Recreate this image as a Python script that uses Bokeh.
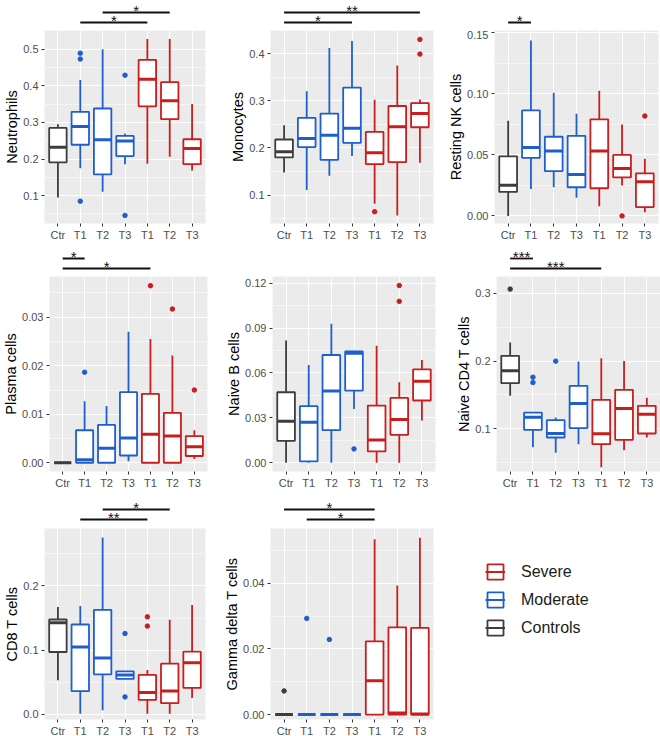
from bokeh.plotting import figure
from bokeh.layouts import row, column
from bokeh.models import (Range1d, FixedTicker, NumeralTickFormatter, ColumnDataSource,
                          Legend, LegendItem)
from bokeh.transform import dodge
from bokeh.core.properties import value
from bokeh.embed import file_html
from bokeh.resources import INLINE

FONT = "Liberation Sans"
NAN = float("nan")

# ---------------- data ----------------
X_LABELS = ["Ctr", "T1", "T2", "T3", "T1", "T2", "T3"]
GROUPS = ["Controls", "Moderate", "Moderate", "Moderate", "Severe", "Severe", "Severe"]
GROUP_COLORS = {"Controls": "#3D3D3D", "Moderate": "#1F5FCC", "Severe": "#C81E1E"}
LEGEND_ORDER = ["Severe", "Moderate", "Controls"]

# Neutrophils
NEUT_LO = [0.095, 0.175, 0.111, 0.186, 0.187, 0.206, 0.169]
NEUT_Q1 = [0.191, 0.239, 0.158, 0.208, 0.344, 0.309, 0.186]
NEUT_MED = [0.232, 0.289, 0.253, 0.249, 0.418, 0.359, 0.229]
NEUT_Q3 = [0.285, 0.329, 0.338, 0.263, 0.471, 0.410, 0.254]
NEUT_HI = [0.295, 0.416, 0.500, 0.270, 0.528, 0.528, 0.350]
NEUT_OUT_I = [1, 1, 1, 3, 3]
NEUT_OUT_V = [0.489, 0.473, 0.085, 0.429, 0.046]
NEUT_SIG = [(2, 5, "*", 0), (1, 4, "*", 1)]

# Monocytes
MONO_LO = [0.148, 0.111, 0.141, 0.183, 0.082, 0.057, 0.169]
MONO_Q1 = [0.180, 0.202, 0.175, 0.211, 0.166, 0.170, 0.244]
MONO_MED = [0.192, 0.220, 0.227, 0.242, 0.190, 0.245, 0.273]
MONO_Q3 = [0.218, 0.264, 0.273, 0.328, 0.234, 0.289, 0.295]
MONO_HI = [0.248, 0.320, 0.412, 0.427, 0.302, 0.375, 0.303]
MONO_OUT_I = [4, 6, 6]
MONO_OUT_V = [0.065, 0.430, 0.399]
MONO_SIG = [(0, 6, "**", 0), (0, 3, "*", 1)]

# Resting NK cells
NK_LO = [0.000, 0.022, 0.0235, 0.015, 0.008, 0.025, 0.003]
NK_Q1 = [0.0197, 0.0476, 0.0368, 0.0235, 0.0227, 0.0316, 0.0073]
NK_MED = [0.0251, 0.056, 0.0532, 0.034, 0.0532, 0.0389, 0.0281]
NK_Q3 = [0.0489, 0.0865, 0.0649, 0.0657, 0.0792, 0.050, 0.0349]
NK_HI = [0.078, 0.1438, 0.101, 0.0838, 0.1027, 0.0749, 0.0468]
NK_OUT_I = [5, 6]
NK_OUT_V = [0.0, 0.0819]
NK_SIG = [(0, 1, "*", 1)]

# Plasma cells
PLAS_LO = [0.0, 0.0, 0.0, 0.0003, 0.0, 0.0, 0.0008]
PLAS_Q1 = [0.0, 0.0, 0.0, 0.0015, 0.0, 0.0, 0.0014]
PLAS_MED = [0.0, 0.0006, 0.003, 0.0051, 0.0059, 0.0055, 0.0033]
PLAS_Q3 = [0.0, 0.0067, 0.0078, 0.01455, 0.0142, 0.0103, 0.0055]
PLAS_HI = [0.0, 0.0127, 0.0117, 0.027, 0.0255, 0.0221, 0.0067]
PLAS_OUT_I = [1, 4, 5, 6]
PLAS_OUT_V = [0.01867, 0.0365, 0.0317, 0.015]
PLAS_SIG = [(0, 1, "*", 0), (0, 4, "*", 1)]

# Naive B cells
NB_LO = [0.0, 0.0, 0.0, 0.036, 0.0, 0.0, 0.0282]
NB_Q1 = [0.0147, 0.0009, 0.0218, 0.0482, 0.0076, 0.0187, 0.0416]
NB_MED = [0.0278, 0.0271, 0.048, 0.0731, 0.0153, 0.0289, 0.0544]
NB_Q3 = [0.0471, 0.0378, 0.072, 0.0744, 0.0382, 0.0433, 0.0624]
NB_HI = [0.0816, 0.0653, 0.0929, 0.0748, 0.0782, 0.0538, 0.0687]
NB_OUT_I = [3, 5, 5]
NB_OUT_V = [0.0093, 0.1184, 0.1078]
NB_SIG = []

# Naive CD4 T cells
CD4_LO = [0.1487, 0.073, 0.0646, 0.0774, 0.0435, 0.0686, 0.0872]
CD4_Q1 = [0.1673, 0.0985, 0.0872, 0.101, 0.0774, 0.0838, 0.0931]
CD4_MED = [0.1855, 0.1172, 0.0931, 0.1373, 0.0926, 0.130, 0.1216]
CD4_Q3 = [0.2076, 0.124, 0.1128, 0.1634, 0.1428, 0.1575, 0.1339]
CD4_HI = [0.2273, 0.125, 0.1167, 0.1993, 0.2042, 0.2002, 0.1457]
CD4_OUT_I = [0, 1, 1, 2]
CD4_OUT_V = [0.306, 0.1762, 0.1683, 0.1998]
CD4_SIG = [(0, 1, "***", 0), (0, 4, "***", 1)]

# CD8 T cells
CD8_LO = [0.0532, 0.001, 0.0067, 0.0553, 0.001, 0.001, 0.0258]
CD8_Q1 = [0.0972, 0.0362, 0.0625, 0.0553, 0.0227, 0.0176, 0.0413]
CD8_MED = [0.1426, 0.1049, 0.0879, 0.0615, 0.0341, 0.0367, 0.0806]
CD8_Q3 = [0.1478, 0.140, 0.1628, 0.0672, 0.0615, 0.0791, 0.0977]
CD8_HI = [0.1674, 0.169, 0.2755, 0.0672, 0.0693, 0.1473, 0.1705]
CD8_OUT_I = [3, 3, 4, 4]
CD8_OUT_V = [0.126, 0.0274, 0.1519, 0.1375]
CD8_SIG = [(2, 5, "*", 0), (1, 4, "**", 1)]

# Gamma delta T cells
GD_LO = [0.0, 0.0, 0.0, 0.0, 0.0, 0.0, 0.0]
GD_Q1 = [0.0, 0.0, 0.0, 0.0, 0.0, 0.0, 0.0]
GD_MED = [0.0, 0.0, 0.0, 0.0, 0.0103, 0.0005, 0.0002]
GD_Q3 = [0.0, 0.0, 0.0, 0.0, 0.0223, 0.0266, 0.0264]
GD_HI = [0.0, 0.0, 0.0, 0.0, 0.0534, 0.0393, 0.0539]
GD_OUT_I = [0, 1, 2]
GD_OUT_V = [0.0072, 0.0293, 0.0229]
GD_SIG = [(0, 4, "*", 0), (1, 4, "*", 1)]

PANELS = [
    ("Neutrophils", NEUT_LO, NEUT_Q1, NEUT_MED, NEUT_Q3, NEUT_HI, NEUT_OUT_I, NEUT_OUT_V, NEUT_SIG,
     (0.024, 0.551), [0.1, 0.2, 0.3, 0.4, 0.5], [0.05, 0.15, 0.25, 0.35, 0.45, 0.55], "0.0"),
    ("Monocytes", MONO_LO, MONO_Q1, MONO_MED, MONO_Q3, MONO_HI, MONO_OUT_I, MONO_OUT_V, MONO_SIG,
     (0.040, 0.449), [0.1, 0.2, 0.3, 0.4], [0.05, 0.15, 0.25, 0.35, 0.45], "0.0"),
    ("Resting NK cells", NK_LO, NK_Q1, NK_MED, NK_Q3, NK_HI, NK_OUT_I, NK_OUT_V, NK_SIG,
     (-0.0062, 0.152), [0.0, 0.05, 0.10, 0.15], [0.025, 0.075, 0.125], "0.00"),
    ("Plasma cells", PLAS_LO, PLAS_Q1, PLAS_MED, PLAS_Q3, PLAS_HI, PLAS_OUT_I, PLAS_OUT_V, PLAS_SIG,
     (-0.0018, 0.0384), [0.0, 0.01, 0.02, 0.03], [0.005, 0.015, 0.025, 0.035], "0.00"),
    ("Naive B cells", NB_LO, NB_Q1, NB_MED, NB_Q3, NB_HI, NB_OUT_I, NB_OUT_V, NB_SIG,
     (-0.0058, 0.1244), [0.0, 0.03, 0.06, 0.09, 0.12], [0.015, 0.045, 0.075, 0.105], "0.00"),
    ("Naive CD4 T cells", CD4_LO, CD4_Q1, CD4_MED, CD4_Q3, CD4_HI, CD4_OUT_I, CD4_OUT_V, CD4_SIG,
     (0.0371, 0.3246), [0.1, 0.2, 0.3], [0.05, 0.15, 0.25], "0.0"),
    ("CD8 T cells", CD8_LO, CD8_Q1, CD8_MED, CD8_Q3, CD8_HI, CD8_OUT_I, CD8_OUT_V, CD8_SIG,
     (-0.0078, 0.2894), [0.0, 0.1, 0.2], [0.05, 0.15, 0.25], "0.0"),
    ("Gamma delta T cells", GD_LO, GD_Q1, GD_MED, GD_Q3, GD_HI, GD_OUT_I, GD_OUT_V, GD_SIG,
     (-0.0015, 0.0567), [0.0, 0.02, 0.04], [0.01, 0.03, 0.05], "0.00"),
]

# ---------------- layout / style constants ----------------
BOX_W = 0.78
X_RANGE = (0.4, 7.6)
# rows: sig-strip height, upper bar px, lower bar px, frame height, bottom border
ROWS = [(30, 12, 22, 193, 22), (31, 13, 23, 195, 19), (37, 18, 28, 191, 18)]
# cols: left border per row, frame width per row, right border
COLS = [([44, 47, 44], [161, 158, 161], 15),
        ([50, 50, 50], [163, 163, 163], 7),
        ([54, 54, 54], [164, 164, 164], 2)]
STAR_SIZE = "15px"
STAR_OFFSET = -2


def style_axis(ax):
    ax.axis_line_color = None
    ax.major_tick_line_color = "#333333"
    ax.major_tick_line_width = 1
    ax.major_tick_out = 3
    ax.major_tick_in = 0
    ax.minor_tick_line_color = None
    ax.major_label_text_font = FONT
    ax.major_label_text_font_size = "11px"
    ax.major_label_text_color = "#4D4D4D"
    ax.major_label_standoff = 2


def make_main(spec, left, fw, right, fh, bottom):
    (name, lo, q1, med, q3, hi, oi, ov, sig, yr, ticks, minor, fmt) = spec
    xs = list(range(1, len(X_LABELS) + 1))
    colors = [GROUP_COLORS[g] for g in GROUPS]
    p = figure(frame_width=fw, frame_height=fh, min_border_left=left, min_border_right=right,
               min_border_top=0, min_border_bottom=bottom,
               x_range=Range1d(*X_RANGE), y_range=Range1d(*yr),
               output_backend="svg", toolbar_location=None)
    p.background_fill_color = "#EBEBEB"
    p.border_fill_color = "white"
    p.outline_line_color = None

    src = ColumnDataSource(dict(x=xs, lo=lo, q1=q1, med=med, q3=q3, hi=hi, color=colors))
    p.segment(x0="x", y0="lo", x1="x", y1="hi", line_color="color", line_width=1.8, source=src)
    p.vbar(x="x", width=BOX_W, bottom="q1", top="q3", fill_color="white",
           line_color="color", line_width=1.8, source=src)
    p.segment(x0=dodge("x", -BOX_W / 2), y0="med", x1=dodge("x", BOX_W / 2), y1="med",
              line_color="color", line_width=3, source=src)
    osrc = ColumnDataSource(dict(x=[xs[i] for i in oi], y=ov,
                                 color=[GROUP_COLORS[GROUPS[i]] for i in oi]))
    p.scatter(x="x", y="y", size=4.5, fill_color="color", line_color="color", source=osrc)

    p.xaxis.ticker = FixedTicker(ticks=xs)
    p.xaxis.major_label_overrides = {x: lab for x, lab in zip(xs, X_LABELS)}
    p.yaxis.ticker = FixedTicker(ticks=ticks, minor_ticks=minor)
    p.yaxis.formatter = NumeralTickFormatter(format=fmt)
    style_axis(p.xaxis[0])
    style_axis(p.yaxis[0])
    p.yaxis.axis_label = name
    p.yaxis.axis_label_text_font = FONT
    p.yaxis.axis_label_text_font_size = "14.5px"
    p.yaxis.axis_label_text_font_style = "normal"
    p.yaxis.axis_label_text_color = "black"
    p.yaxis.axis_label_standoff = 0

    p.xgrid.grid_line_color = "white"
    p.xgrid.grid_line_width = 1.1
    p.ygrid.grid_line_color = "white"
    p.ygrid.grid_line_width = 1.1
    p.ygrid.minor_grid_line_color = "white"
    p.ygrid.minor_grid_line_width = 0.5
    return p


def make_sig(sig, left, fw, right, H, a, b):
    step = b - a
    s = figure(frame_width=fw, frame_height=H, min_border_left=left, min_border_right=right,
               min_border_top=0, min_border_bottom=0,
               x_range=Range1d(*X_RANGE), y_range=Range1d((H - a) / step, -a / step),
               x_axis_location=None, y_axis_location=None,
               output_backend="svg", toolbar_location=None)
    s.grid.visible = False
    s.outline_line_color = None
    s.background_fill_color = "white"
    s.border_fill_color = "white"
    if sig:
        x0 = [c[0] + 1 for c in sig]
        x1 = [c[1] + 1 for c in sig]
        lab = [c[2] for c in sig]
        lvl = [c[3] for c in sig]
        mid = [(u + v) / 2 for u, v in zip(x0, x1)]
        s.segment(x0=x0, y0=lvl, x1=x1, y1=lvl, line_color="#111111", line_width=1.8)
        s.text(x=mid, y=lvl, text=lab, text_align="center", text_baseline="alphabetic",
               y_offset=STAR_OFFSET, text_font=value(FONT), text_font_size=STAR_SIZE,
               text_color="#111111")
    return s


def make_legend(width, height):
    lg = figure(frame_width=width, frame_height=height, min_border=0,
                x_range=Range1d(0, 1), y_range=Range1d(0, 1),
                x_axis_location=None, y_axis_location=None,
                output_backend="svg", toolbar_location=None)
    lg.grid.visible = False
    lg.outline_line_color = None
    lg.background_fill_color = "white"
    lg.border_fill_color = "white"
    items = []
    for g in LEGEND_ORDER:
        c = GROUP_COLORS[g]
        # legend-only renderers (NaN coordinates: nothing drawn in the plot area)
        q = lg.quad(left=[NAN], right=[NAN], bottom=[NAN], top=[NAN], fill_color="white",
                    line_color=c, line_width=1.8)
        sg = lg.segment(x0=[NAN], y0=[NAN], x1=[NAN], y1=[NAN], line_color=c, line_width=2)
        items.append(LegendItem(label=g, renderers=[q, sg]))
    leg = Legend(items=items, location=(45, 100), glyph_width=20, glyph_height=19,
                 label_height=19, spacing=9, padding=0, margin=0, border_line_color=None,
                 background_fill_alpha=0, label_standoff=16, label_text_font=FONT,
                 label_text_font_size="16px", label_text_color="#1A1A1A")
    lg.add_layout(leg)
    return lg


rows = []
k = 0
for r, (H, a, b, fh, bottom) in enumerate(ROWS):
    cells = []
    for c, (lefts, fws, right) in enumerate(COLS):
        if k >= len(PANELS):
            total_w = lefts[r] + fws[r] + right
            cells.append(make_legend(total_w, H + fh + bottom))
            continue
        spec = PANELS[k]
        sig = make_sig(spec[8], lefts[r], fws[r], right, H, a, b)
        main = make_main(spec, lefts[r], fws[r], right, fh, bottom)
        cells.append(column(sig, main))
        k += 1
    rows.append(row(*cells))

layout = column(*rows)

open("out.html", "w").write(file_html(layout, INLINE))
